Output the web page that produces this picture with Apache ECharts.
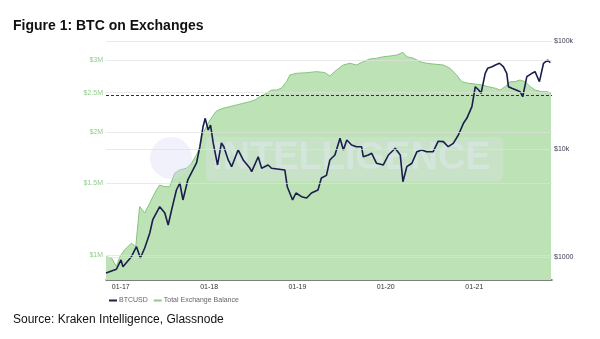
<!DOCTYPE html>
<html>
<head>
<meta charset="utf-8">
<script src="https://cdn.jsdelivr.net/npm/echarts@6/dist/echarts.min.js"></script>
<style>
html,body{margin:0;padding:0;background:#fff;}
#chart{width:600px;height:339px;}
</style>
</head>
<body>
<div id="chart"></div>
<script>
// ---- data ----
const btcDates = ['2016-11-01','2016-12-14','2017-01-02','2017-01-10','2017-02-14','2017-03-07','2017-03-23','2017-04-10','2017-05-01','2017-05-13','2017-06-11','2017-07-02','2017-07-16','2017-07-30','2017-08-19','2017-09-02','2017-09-15','2017-10-05','2017-10-20','2017-11-10','2017-11-24','2017-12-07','2017-12-16','2017-12-28','2018-01-07','2018-01-18','2018-02-05','2018-02-21','2018-03-03','2018-03-21','2018-04-04','2018-05-01','2018-05-22','2018-06-19','2018-06-26','2018-07-23','2018-08-06','2018-09-02','2018-09-16','2018-11-10','2018-11-20','2018-12-12','2018-12-26','2019-01-18','2019-02-08','2019-02-28','2019-03-27','2019-04-10','2019-05-01','2019-05-15','2019-06-05','2019-06-26','2019-07-10','2019-07-24','2019-08-13','2019-09-02','2019-09-23','2019-09-30','2019-10-21','2019-11-04','2019-11-24','2019-12-22','2020-01-12','2020-02-09','2020-03-01','2020-03-12','2020-03-28','2020-04-18','2020-05-09','2020-05-29','2020-06-18','2020-07-15','2020-08-05','2020-08-26','2020-09-15','2020-10-06','2020-10-27','2020-11-17','2020-12-01','2020-12-22','2021-01-05','2021-01-19','2021-01-29','2021-02-15','2021-02-25','2021-03-15','2021-03-29','2021-04-15','2021-05-01','2021-05-15','2021-05-22','2021-06-05','2021-06-23','2021-07-09','2021-07-20','2021-08-06','2021-08-27','2021-09-09','2021-09-27','2021-10-14','2021-10-31','2021-11-11'];
const btcValues = [710,770,940,813,1006,1245,979,1211,1667,2202,2923,2553,1977,2723,4170,4842,3373,5164,5995,7420,10500,16070,19230,14990,16670,11370,7110,11370,10500,7910,6856,9790,7910,6626,6166,8484,6626,7110,6626,6390,4477,3373,3914,3615,3516,3914,4170,5386,5700,7910,8795,12560,9790,12110,10890,10500,10500,8484,8795,9120,7373,7110,8795,10150,8795,4980,6856,7373,9440,9790,9440,9440,11800,11690,10500,11290,13480,17290,19230,24640,37740,35170,32800,50230,55850,57810,59970,62200,57810,50230,37740,36480,35170,33950,30480,46700,50230,52000,41990,62200,66680,62960];

const balDates = ['2016-11-01','2016-11-24','2016-12-14','2016-12-28','2017-01-17','2017-02-14','2017-03-04','2017-03-20','2017-04-10','2017-05-01','2017-05-14','2017-05-28','2017-06-11','2017-07-02','2017-07-22','2017-08-12','2017-09-02','2017-09-30','2017-10-20','2017-11-10','2017-11-24','2017-12-07','2017-12-28','2018-01-14','2018-02-01','2018-02-28','2018-03-28','2018-04-25','2018-05-22','2018-06-19','2018-07-10','2018-07-30','2018-08-27','2018-09-16','2018-10-06','2018-10-27','2018-11-17','2018-12-01','2018-12-28','2019-02-08','2019-03-21','2019-04-24','2019-05-15','2019-06-12','2019-07-10','2019-08-06','2019-09-02','2019-09-30','2019-10-28','2019-11-24','2019-12-22','2020-01-19','2020-02-16','2020-03-12','2020-03-28','2020-04-25','2020-05-22','2020-06-18','2020-07-15','2020-08-26','2020-09-22','2020-10-20','2020-11-10','2020-12-08','2021-01-05','2021-02-02','2021-03-01','2021-03-29','2021-04-18','2021-05-08','2021-05-29','2021-06-18','2021-07-09','2021-07-30','2021-08-20','2021-09-09','2021-10-07','2021-10-28','2021-11-14'];
const balValues = [990000,983000,936000,990000,1029000,1068000,1048000,1314000,1267000,1341000,1390000,1443000,1484000,1470000,1470000,1586000,1616000,1632000,1678000,1758000,1843000,1988000,2102000,2183000,2255000,2289000,2310000,2332000,2354000,2376000,2399000,2443000,2490000,2537000,2537000,2562000,2659000,2762000,2788000,2798000,2814000,2800000,2746000,2841000,2922000,2951000,2922000,2977000,3023000,3035000,3062000,3074000,3092000,3139000,3062000,3035000,2977000,2951000,2938000,2922000,2869000,2762000,2659000,2635000,2624000,2610000,2585000,2562000,2537000,2585000,2659000,2659000,2685000,2659000,2585000,2537000,2513000,2513000,2490000];

const leftTicks = [1000000,1500000,2000000,2500000,3000000];
const leftTickLabels = ['$1M','$1.5M','$2M','$2.5M','$3M'];
const rightTicks = [1000,10000,100000];
const rightTickLabels = ['$1000','$10k','$100k'];
const refLineValue = 2470000;
const seriesNames = ['BTCUSD','Total Exchange Balance'];

// ---- chart ----
const chart = echarts.init(document.getElementById('chart'), null, {renderer:'canvas'});
const FONT = 'Liberation Sans, Arial, sans-serif';

const gridLine = {color:'rgba(225,225,225,0.7)', width:1, type:'solid'};

const leftMarks = leftTicks.map((v,i)=>({
  yAxis:v,
  lineStyle:gridLine,
  label:{show:true, position:'start', formatter:leftTickLabels[i], color:'#93cc8e', fontSize:7, fontFamily:FONT, distance:3}
}));
leftMarks.push({
  yAxis:refLineValue,
  lineStyle:{color:'#333', width:1, type:[3,2]},
  label:{show:false}
});

const rightMarks = rightTicks.map((v,i)=>({
  yAxis:v,
  lineStyle:gridLine,
  label:{show:true, position:'end', formatter:rightTickLabels[i], color:'#3a3a55', fontSize:7, fontFamily:FONT, distance:2}
}));

const option = {
  animation:false,
  backgroundColor:'#fff',
  title:[
    {text:'Figure 1: BTC on Exchanges', left:8, top:14,
     textStyle:{fontSize:14, fontWeight:'bold', color:'#111', fontFamily:FONT}},
    {text:'Source: Kraken Intelligence, Glassnode', left:8, top:309,
     textStyle:{fontSize:12, fontWeight:'normal', color:'#111', fontFamily:FONT}}
  ],
  legend:{
    left:104, top:292, itemWidth:8, itemHeight:2, itemGap:6, icon:'rect',
    textStyle:{fontSize:7, color:'#666', fontFamily:FONT, padding:[0,0,0,-3]},
    data:seriesNames
  },
  grid:{left:106, right:48, top:41, bottom:59, containLabel:false},
  xAxis:{
    type:'time',
    min:'2016-11-01', max:'2021-11-18',
    splitNumber:5,
    axisLine:{lineStyle:{color:'#555', width:1.5}},
    axisTick:{show:true, inside:true, length:2, lineStyle:{color:'#777'}},
    splitLine:{show:false},
    axisLabel:{
      fontSize:7, color:'#333', fontFamily:FONT, margin:4,
      showMinLabel:false, showMaxLabel:false,
      formatter:function(v){
        const d=new Date(v);
        return String(d.getMonth()+1).padStart(2,'0')+'-'+String(d.getFullYear()).slice(2);
      }
    }
  },
  yAxis:[
    {type:'log', min:868000, max:3346000, axisLabel:{show:false}, axisLine:{show:false}, axisTick:{show:false}, splitLine:{show:false}},
    {type:'log', min:612, max:100000, axisLabel:{show:false}, axisLine:{show:false}, axisTick:{show:false}, splitLine:{show:false}}
  ],
  graphic:[
    {type:'circle', left:150, top:137, z:2, silent:true, shape:{r:21}, style:{fill:'rgba(215,215,245,0.35)'}},
    {type:'rect', left:206, top:137, z:2, silent:true, shape:{width:297, height:44, r:5}, style:{fill:'rgba(225,225,240,0.28)'}},
    {type:'text', left:212, top:140, z:2, silent:true, style:{text:'INTELLIGENCE', fontSize:38, fontWeight:'bold', fontFamily:FONT, fill:'rgba(232,234,250,0.42)'}}
  ],
  series:[
    {
      name:'Total Exchange Balance', type:'line', yAxisIndex:0, showSymbol:false, symbol:'none',
      data:balDates.map((d,i)=>[d,balValues[i]]),
      lineStyle:{color:'#84c57c', width:1},
      itemStyle:{color:'#8ccc85'},
      areaStyle:{color:'#bde2b6', opacity:1, origin:'start'},
      markLine:{silent:true, symbol:'none', data:leftMarks},
      z:1
    },
    {
      name:'BTCUSD', type:'line', yAxisIndex:1, showSymbol:false, symbol:'none',
      data:btcDates.map((d,i)=>[d,btcValues[i]]),
      lineStyle:{color:'#1b1e4d', width:1.6},
      itemStyle:{color:'#1b1e4d'},
      markLine:{silent:true, symbol:'none', data:rightMarks},
      z:3
    }
  ]
};
chart.setOption(option);
</script>
</body>
</html>
